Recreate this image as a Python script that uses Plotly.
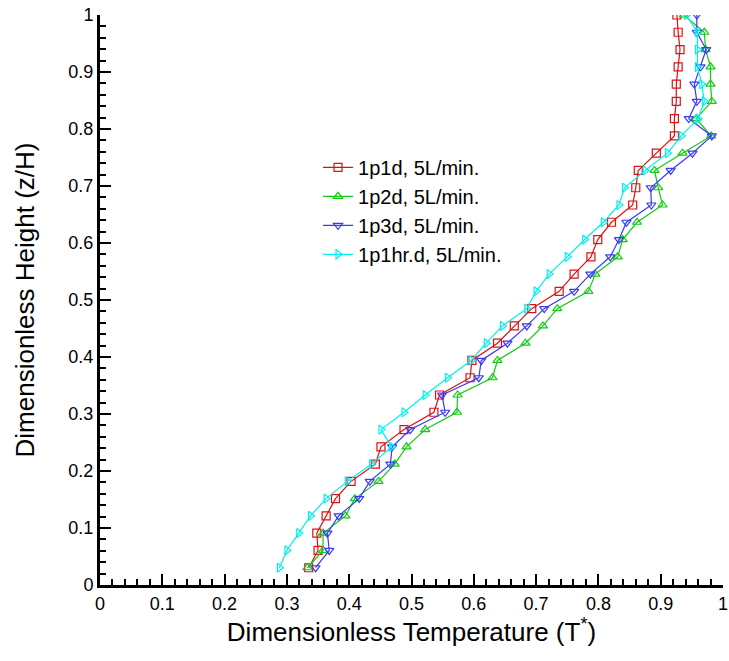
import plotly.graph_objects as go

# Dimensionless height levels (z/H)
z_levels = [k / 33 for k in range(1, 34)]

# Dimensionless temperature T* for each case
t_1p1d = [0.335, 0.350, 0.348, 0.363, 0.378, 0.403, 0.442, 0.451, 0.488, 0.536,
          0.545, 0.594, 0.597, 0.638, 0.665, 0.693, 0.737, 0.761, 0.788, 0.799,
          0.821, 0.855, 0.860, 0.864, 0.893, 0.922, 0.922, 0.925, 0.925, 0.928,
          0.931, 0.928, 0.926]
t_1p2d = [0.333, 0.358, 0.358, 0.394, 0.409, 0.447, 0.473, 0.492, 0.522, 0.573,
          0.574, 0.630, 0.638, 0.683, 0.711, 0.734, 0.784, 0.795, 0.831, 0.839,
          0.862, 0.903, 0.896, 0.890, 0.935, 0.981, 0.957, 0.982, 0.980, 0.980,
          0.972, 0.970, 0.937]
t_1p3d = [0.346, 0.368, 0.365, 0.383, 0.416, 0.433, 0.466, 0.469, 0.498, 0.554,
          0.549, 0.608, 0.612, 0.654, 0.685, 0.713, 0.761, 0.787, 0.819, 0.833,
          0.845, 0.885, 0.884, 0.916, 0.951, 0.982, 0.945, 0.958, 0.954, 0.964,
          0.973, 0.958, 0.958]
t_1p1hr = [0.288, 0.300, 0.319, 0.338, 0.363, 0.397, 0.436, 0.468, 0.451, 0.488,
           0.522, 0.558, 0.596, 0.620, 0.646, 0.685, 0.700, 0.721, 0.750, 0.778,
           0.808, 0.833, 0.842, 0.875, 0.911, 0.933, 0.960, 0.970, 0.966, 0.959,
           0.959, 0.959, 0.941]

series_names = ["1p1d, 5L/min.", "1p2d, 5L/min.", "1p3d, 5L/min.", "1p1hr.d, 5L/min."]
series_data = [t_1p1d, t_1p2d, t_1p3d, t_1p1hr]
series_colors = ["#dd1111", "#11cc11", "#3838ff", "#00f0f0"]
series_symbols = ["square-open", "triangle-up-open", "triangle-down-open", "triangle-right-open"]

x_ticks = [0, 0.1, 0.2, 0.3, 0.4, 0.5, 0.6, 0.7, 0.8, 0.9, 1]
x_tick_text = ["0", "0.1", "0.2", "0.3", "0.4", "0.5", "0.6", "0.7", "0.8", "0.9", "1"]
y_ticks = x_ticks
y_tick_text = x_tick_text

FONT = "Liberation Sans, Arial, sans-serif"

fig = go.Figure()
for i, (name, xs, col, sym) in enumerate(zip(series_names, series_data, series_colors, series_symbols)):
    fig.add_trace(go.Scatter(
        x=xs, y=z_levels, mode="lines+markers", name=name,
        legendgroup=f"g{i}",
        line=dict(color=col, width=1.2),
        marker=dict(symbol=sym, size=8, color=col, line=dict(color=col, width=1.2)),
    ))

axis_common = dict(
    range=[0, 1], showgrid=False, zeroline=False,
    showline=True, linecolor="black", linewidth=3,
    ticks="inside", ticklen=11, tickwidth=2, tickcolor="black",
    minor=dict(ticks="inside", ticklen=6, tickwidth=1.5, dtick=0.02, tickcolor="black", showgrid=False),
    tickfont=dict(family=FONT, size=18, color="black"),
    mirror=False, automargin=False,
)

fig.update_layout(
    width=729, height=661,
    margin=dict(l=100, r=6, t=15, b=76),
    plot_bgcolor="white", paper_bgcolor="white",
    font=dict(family=FONT, color="black"),
    xaxis=dict(**axis_common, tickvals=x_ticks, ticktext=x_tick_text,
               title=dict(text="Dimensionless Temperature (T<sup>*</sup>)",
                          font=dict(family=FONT, size=26, color="black"), standoff=10)),
    yaxis=dict(**axis_common, tickvals=y_ticks, ticktext=y_tick_text,
               title=dict(text="Dimensionless Height (z/H)",
                          font=dict(family=FONT, size=26, color="black"), standoff=27)),
    legend=dict(x=0.35, y=0.767, xanchor="left", yanchor="top",
                font=dict(family=FONT, size=20, color="black"),
                bgcolor="rgba(0,0,0,0)", borderwidth=0, tracegroupgap=0),
    showlegend=True,
)

fig.write_html("out.html")
